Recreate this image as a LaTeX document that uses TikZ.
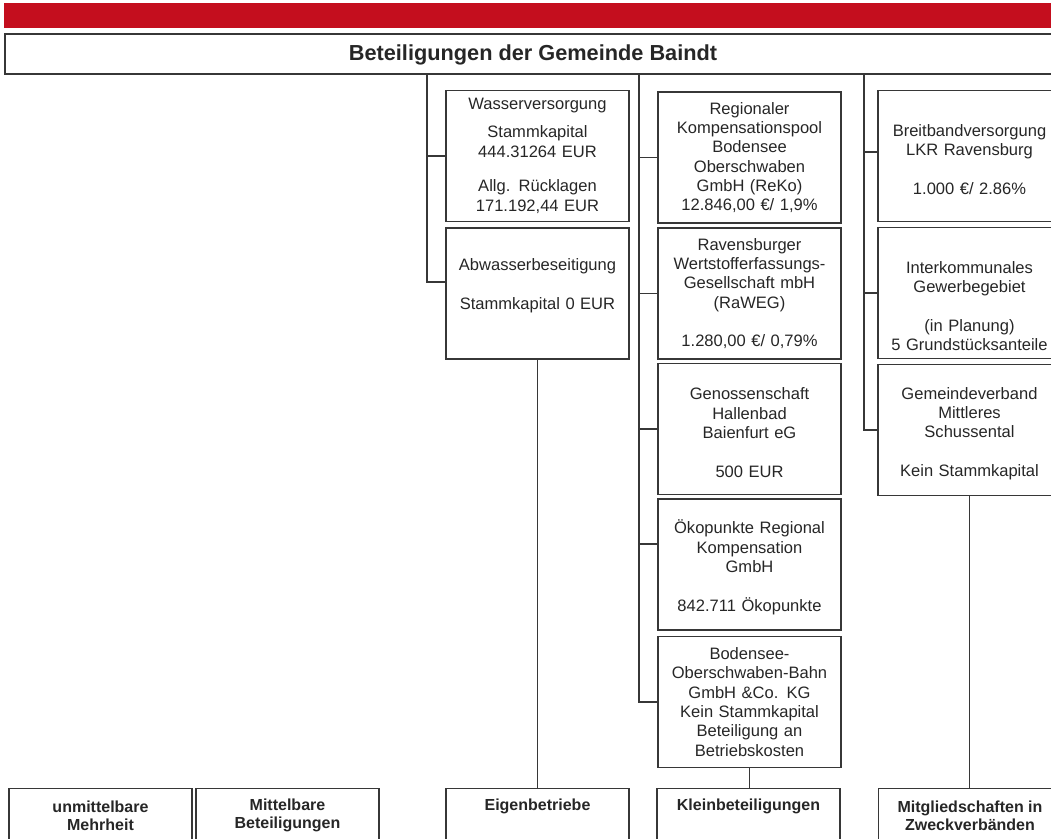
\documentclass[tikz,border=0pt]{standalone}
\usepackage{fontspec}
\setmainfont{Liberation Sans}
\usepackage{tikz}
\usetikzlibrary{positioning}
\definecolor{baindtred}{RGB}{196,14,30}
\definecolor{linegray}{RGB}{55,55,55}

\begin{document}
\begin{tikzpicture}[x=0.75pt,y=-0.75pt,
  box/.style={draw=linegray,line width=1.1pt,align=center,text width=130pt,
    inner xsep=3.6pt,inner ysep=0pt,minimum height=98.5pt,
    font=\fontsize{12.4}{14.5}\selectfont,text=black!85},
  group/.style={draw=linegray,line width=1.1pt,anchor=north,align=center,
    minimum width=137pt,minimum height=40pt,
    font=\bfseries\fontsize{12}{13.5}\selectfont,text=black!85},
  oneline/.style={text height=12pt,text depth=20pt},
  conn/.style={draw=linegray,line width=1pt}]
  \useasboundingbox (0,0) rectangle (1051,839);

  % red band and title
  \fill[baindtred] (4,3) rectangle (1062,28);
  \node[draw=linegray,line width=1.1pt,minimum width=792pt,minimum height=30pt,
        text height=13pt,text depth=3pt,
        font=\bfseries\fontsize{16.3}{19}\selectfont,text=black!85]
    (title) at (533,54) {Beteiligungen der Gemeinde Baindt};

  % Eigenbetriebe
  \node[box] (wasser) at (537.5,156)
    {Wasserversorgung\\[6.5pt]Stammkapital\\444.31264 EUR\\[11.5pt]Allg. Rücklagen\\171.192,44 EUR};
  \node[box] (abw) at (537.5,293.5)
    {Abwasserbeseitigung\\\mbox{}\\Stammkapital 0 EUR\\\mbox{}};

  % Kleinbeteiligungen
  \node[box] (reko) at (749.5,157.5)
    {Regionaler\\Kompensationspool\\Bodensee\\Oberschwaben\\GmbH (ReKo)\\12.846,00 €/ 1,9\%};
  \node[box] (raweg) at (749.5,293.5)
    {Ravensburger\\Wertstofferfassungs-\\Gesellschaft mbH\\(RaWEG)\\\mbox{}\\1.280,00 €/ 0,79\%};
  \node[box] (hallen) at (749.5,429)
    {\mbox{}\\Genossenschaft\\Hallenbad\\Baienfurt eG\\\mbox{}\\500 EUR};
  \node[box] (oeko) at (749.5,564.5)
    {\mbox{}\\Ökopunkte Regional\\Kompensation\\GmbH\\\mbox{}\\842.711 Ökopunkte};
  \node[box] (bahn) at (749.5,702)
    {Bodensee-\\Oberschwaben-Bahn\\GmbH \&Co. KG\\Kein Stammkapital\\Beteiligung an\\Betriebskosten};

  % Zweckverbaende
  \node[box] (breit) at (969.5,156)
    {\mbox{}\\Breitbandversorgung\\LKR Ravensburg\\\mbox{}\\1.000 €/ 2.86\%};
  \node[box] (inter) at (969.5,293)
    {\mbox{}\\\mbox{}\\Interkommunales\\Gewerbegebiet\\\mbox{}\\(in Planung)\\5 Grundstücksanteile};
  \node[box] (gemverb) at (969.5,430)
    {\mbox{}\\Gemeindeverband\\Mittleres\\Schussental\\\mbox{}\\Kein Stammkapital};

  % group boxes at the bottom
  \node[group] (unm) at (100.5,788) {unmittelbare\\Mehrheit};
  \node[group] (mittel) at (287.5,788) {Mittelbare\\Beteiligungen};
  \node[group,oneline] (eigen) at (537.5,788) {Eigenbetriebe};
  \node[group,oneline] (klein) at (748.5,788) {Kleinbeteiligungen};
  \node[group] (mitglied) at (970,788) {Mitgliedschaften in\\Zweckverbänden};

  % Lines
  \coordinate (t1) at (427,74);
  \coordinate (t2) at (639,74);
  \coordinate (t3) at (864,74);
  \draw[conn] (t1) |- ([yshift=8.6pt]abw.west);
  \draw[conn] (t1 |- wasser.west) -- (wasser.west);
  \draw[conn] (t2) |- (bahn.west);
  \draw[conn] (t2 |- reko.west) -- (reko.west);
  \draw[conn] (t2 |- raweg.west) -- (raweg.west);
  \draw[conn] (t2 |- hallen.west) -- (hallen.west);
  \draw[conn] ([yshift=15.4pt]oeko.west -| t2) -- ([yshift=15.4pt]oeko.west);
  \draw[conn] (t3) |- (gemverb.west);
  \draw[conn] ([yshift=3pt]breit.west -| t3) -- ([yshift=3pt]breit.west);
  \draw[conn] (t3 |- inter.west) -- (inter.west);
  \draw[conn] (abw.south) -- (abw.south |- eigen.north);
  \draw[conn] (bahn.south) -- (bahn.south |- klein.north);
  \draw[conn] (gemverb.south) -- (gemverb.south |- mitglied.north);
\end{tikzpicture}
\end{document}
